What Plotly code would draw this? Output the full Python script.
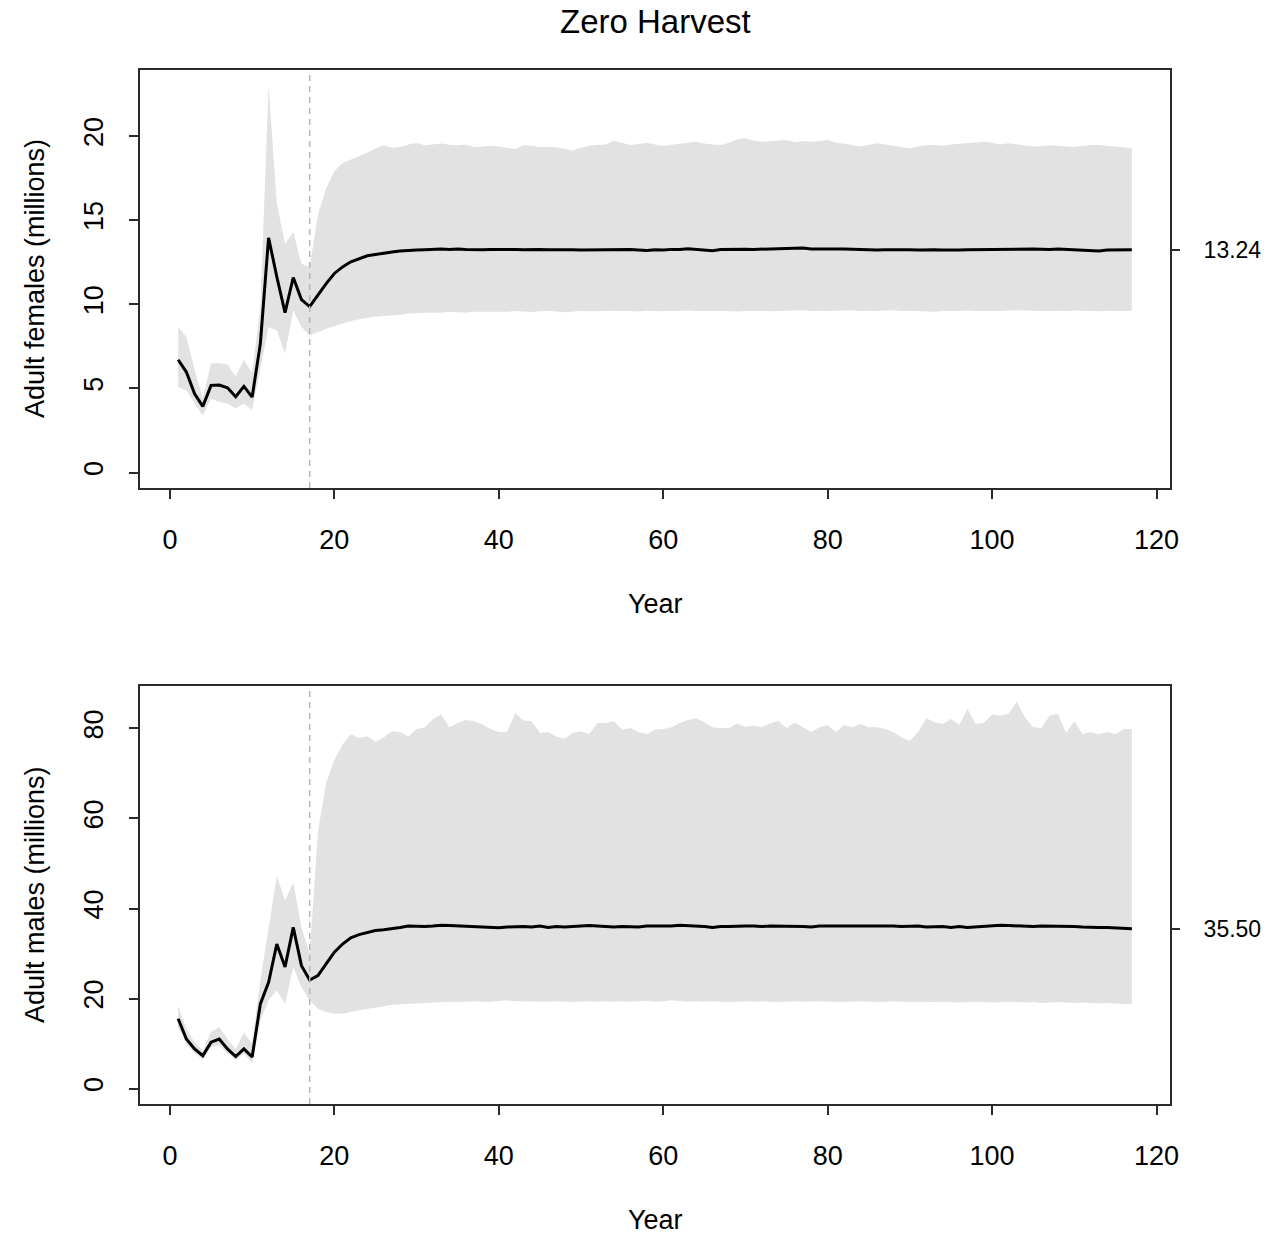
import plotly.graph_objects as go

years = list(range(1, 118))

# ---------------- Adult females (millions) ----------------
mean_f = [6.7, 5.97, 4.68, 3.93, 5.18, 5.2, 5.04, 4.5, 5.12, 4.48,
          7.66, 13.95, 11.63, 9.5, 11.59, 10.28, 9.86, 10.54, 11.23, 11.83,
          12.22, 12.52, 12.72, 12.88, 12.95, 13.05, 13.11, 13.16, 13.21, 13.22,
          13.24, 13.26, 13.28, 13.25, 13.29, 13.26, 13.24, 13.24, 13.25, 13.26,
          13.27, 13.25, 13.24, 13.26, 13.25, 13.24, 13.25, 13.26, 13.24, 13.23,
          13.24, 13.25, 13.22, 13.23, 13.24, 13.25, 13.23, 13.2, 13.24, 13.22,
          13.26, 13.25, 13.3, 13.27, 13.22, 13.18, 13.25, 13.27, 13.28, 13.27,
          13.26, 13.27, 13.26, 13.28, 13.3, 13.32, 13.34, 13.28, 13.29, 13.3,
          13.31, 13.29, 13.27, 13.25, 13.24, 13.22, 13.24, 13.25, 13.26, 13.24,
          13.23, 13.25, 13.24, 13.22, 13.21, 13.23, 13.24, 13.25, 13.24, 13.26,
          13.27, 13.25, 13.29, 13.31, 13.28, 13.27, 13.25, 13.28, 13.26, 13.24,
          13.25, 13.22, 13.17, 13.23, 13.24, 13.25, 13.24]

upper_f = [8.65, 8.05, 6.1, 4.4, 6.5, 6.5, 6.4, 5.7, 6.7, 5.9,
           9.8, 23.0, 16.0, 13.6, 14.3, 12.4, 12.2, 15.3, 16.9, 17.9,
           18.4, 18.6, 18.8, 19.0, 19.25, 19.45, 19.3, 19.35, 19.5, 19.58,
           19.45, 19.5, 19.55, 19.48, 19.45, 19.5, 19.35, 19.38, 19.42, 19.37,
           19.3, 19.22, 19.45, 19.42, 19.33, 19.36, 19.33, 19.25, 19.13, 19.3,
           19.42, 19.46, 19.5, 19.72, 19.6, 19.46, 19.52, 19.6, 19.5, 19.4,
           19.48, 19.56, 19.6, 19.66, 19.55, 19.5, 19.46, 19.6, 19.8, 19.86,
           19.72, 19.66, 19.7, 19.72, 19.76, 19.62, 19.7, 19.66, 19.72, 19.76,
           19.6, 19.55, 19.45, 19.37, 19.48, 19.56, 19.5, 19.42, 19.35, 19.27,
           19.38, 19.45, 19.46, 19.42, 19.5, 19.55, 19.6, 19.62, 19.66, 19.6,
           19.5, 19.56, 19.5, 19.42, 19.37, 19.4, 19.45, 19.42, 19.38, 19.35,
           19.4, 19.46, 19.46, 19.42, 19.38, 19.32, 19.27]

lower_f = [5.08, 4.88, 4.1, 3.39, 4.4, 4.2, 4.1, 3.8, 4.1, 3.7,
           6.2, 8.65, 8.45, 7.06, 9.64, 8.65, 8.15, 8.35, 8.55, 8.72,
           8.85, 9.0, 9.1, 9.2, 9.25, 9.3, 9.35, 9.38, 9.45, 9.47,
           9.5, 9.52, 9.5, 9.55, 9.52, 9.5, 9.55, 9.57, 9.53, 9.56,
           9.55, 9.6, 9.57, 9.54, 9.58, 9.6, 9.57, 9.52, 9.55, 9.6,
           9.58, 9.57, 9.6, 9.62, 9.58, 9.6, 9.57, 9.62, 9.6, 9.58,
           9.62, 9.6, 9.63, 9.6, 9.58, 9.6, 9.62, 9.6, 9.57, 9.6,
           9.62, 9.6, 9.58, 9.62, 9.6, 9.63, 9.65, 9.6, 9.62, 9.6,
           9.58, 9.62, 9.64, 9.6, 9.62, 9.6, 9.63, 9.65, 9.6, 9.62,
           9.6, 9.58, 9.55, 9.6, 9.62, 9.6, 9.63, 9.6, 9.58, 9.62,
           9.6, 9.63, 9.65, 9.6, 9.62, 9.6, 9.58, 9.62, 9.6, 9.63,
           9.62, 9.6, 9.58, 9.62, 9.6, 9.6, 9.62]

# ---------------- Adult males (millions) ----------------
mean_m = [15.5, 11.0, 8.8, 7.3, 10.3, 11.0, 8.8, 7.1, 8.8, 7.0,
          18.8, 23.6, 32.1, 27.0, 35.8, 27.3, 24.1, 25.1, 27.7, 30.3,
          32.1, 33.5, 34.2, 34.7, 35.1, 35.3, 35.5, 35.8, 36.1, 36.0,
          36.0, 36.1, 36.3, 36.2, 36.1, 36.0, 35.9, 35.8, 35.7, 35.7,
          35.9, 36.0, 36.0, 35.9, 36.1, 35.8, 36.0, 35.9, 36.0, 36.1,
          36.2, 36.1, 36.0, 35.9, 36.0, 36.0, 35.9, 36.1, 36.1, 36.2,
          36.1, 36.3, 36.2, 36.2, 36.0, 35.8, 36.0, 36.0, 36.1, 36.1,
          36.1, 36.0, 36.1, 36.1, 36.1, 36.1, 36.0, 35.9, 36.1, 36.1,
          36.1, 36.1, 36.2, 36.1, 36.1, 36.2, 36.2, 36.1, 36.0, 36.1,
          36.1, 35.9, 36.0, 36.0, 35.8, 36.0, 35.8, 35.9, 36.0, 36.1,
          36.3, 36.2, 36.1, 36.1, 36.0, 36.1, 36.1, 36.0, 36.1, 36.0,
          35.9, 35.8, 35.8, 35.8, 35.7, 35.6, 35.5]

upper_m = [18.4, 13.3, 10.3, 8.4, 12.6, 13.6, 11.0, 8.8, 12.4, 10.0,
           24.0, 36.0, 47.3, 41.8, 45.8, 35.8, 30.0, 57.0, 68.0, 73.0,
           76.5, 78.7, 77.9, 78.3, 77.0, 78.0, 79.4, 79.2, 78.2, 79.9,
           80.2, 82.1, 83.1, 80.3, 81.2, 81.9, 81.6, 80.9, 79.9, 79.2,
           79.2, 83.4, 81.8, 81.6, 79.0, 79.2, 78.2, 77.7, 79.0, 79.4,
           78.8, 81.2, 81.2, 81.6, 79.7, 80.1, 79.2, 78.7, 79.7, 79.9,
           80.3, 81.2, 81.9, 82.3, 81.4, 80.3, 80.1, 80.1, 81.1, 80.4,
           80.6, 80.3, 81.1, 81.7, 80.1, 81.3, 80.3, 79.2, 80.3, 80.8,
           79.2, 80.8, 80.3, 81.0, 80.3, 80.3, 79.9, 79.2, 78.0, 77.2,
           79.2, 82.3, 81.4, 81.0, 82.1, 80.8, 84.4, 81.0, 81.2, 83.1,
           82.9, 83.3, 86.0, 82.5, 80.3, 80.1, 82.9, 83.3, 79.0, 81.6,
           78.8, 79.2, 78.7, 79.2, 78.8, 79.9, 79.9]

lower_m = [13.6, 9.9, 7.9, 6.4, 9.2, 9.6, 7.7, 6.4, 7.7, 5.6,
           15.1, 19.6, 21.8, 18.8, 27.0, 22.5, 19.6, 17.7, 17.0, 16.6,
           16.6, 17.0, 17.4, 17.8, 18.0, 18.3, 18.6, 18.8, 18.9, 19.0,
           19.1, 19.2, 19.2, 19.3, 19.2, 19.3, 19.4, 19.3, 19.3, 19.4,
           19.6, 19.4, 19.3, 19.4, 19.3, 19.3, 19.4, 19.3, 19.2, 19.3,
           19.4, 19.3, 19.4, 19.3, 19.4, 19.3, 19.4, 19.5, 19.3, 19.4,
           19.6, 19.4, 19.3, 19.4, 19.3, 19.4, 19.3, 19.2, 19.3, 19.4,
           19.3, 19.4, 19.3, 19.2, 19.3, 19.4, 19.3, 19.3, 19.4, 19.3,
           19.2, 19.3, 19.3, 19.4, 19.3, 19.2, 19.3, 19.4, 19.3, 19.2,
           19.3, 19.3, 19.2, 19.3, 19.2, 19.1, 19.2, 19.3, 19.2, 19.1,
           19.2, 19.3, 19.2, 19.1, 19.2, 19.0, 19.1, 19.2, 19.1, 19.0,
           19.1, 19.0, 18.9, 19.0, 18.9, 18.8, 18.8]

title_text = "Zero Harvest"
x_title = "Year"
y_titles = ["Adult females (millions)", "Adult males (millions)"]
x_ticks = [0, 20, 40, 60, 80, 100, 120]
y_ticks_f = [0, 5, 10, 15, 20]
y_ticks_m = [0, 20, 40, 60, 80]
harvest_start = 17

# ---------------- styling ----------------
W, H = 1286, 1234
FONT = "Liberation Sans, Arial, Helvetica, sans-serif"
FS = 27
FS_TITLE = 33
FS_RIGHT = 23
BAND = "#e2e2e2"
BOX = "#2b2b2b"

xdom = [140 / W, 1170 / W]
ydom_top = [1 - 488 / H, 1 - 70 / H]
ydom_bot = [1 - 1104 / H, 1 - 686 / H]

fig = go.Figure()

def add_panel(mean, upper, lower, xa, ya, ya_r):
    fig.add_trace(go.Scatter(
        x=years + years[::-1], y=upper + lower[::-1],
        xaxis=xa, yaxis=ya, fill="toself", fillcolor=BAND,
        line=dict(width=0, color=BAND), mode="lines",
        hoverinfo="skip", showlegend=False))
    fig.add_trace(go.Scatter(
        x=years, y=mean, xaxis=xa, yaxis=ya, mode="lines",
        line=dict(color="black", width=3), showlegend=False))
    fig.add_trace(go.Scatter(
        x=[years[-1]], y=[mean[-1]], xaxis=xa, yaxis=ya_r, mode="markers",
        marker=dict(opacity=0), hoverinfo="skip", showlegend=False))

add_panel(mean_f, upper_f, lower_f, "x", "y", "y3")
add_panel(mean_m, upper_m, lower_m, "x2", "y2", "y4")

xr = [years[0] - 0.04 * (years[-1] - years[0]), years[-1] + 0.04 * (years[-1] - years[0])]
mf = max(upper_f)
mm = max(upper_m)
yr_f = [-0.04 * mf, 1.04 * mf]
yr_m = [-0.04 * mm, 1.04 * mm]

tickfont = dict(family=FONT, size=FS, color="black")

def xaxis_cfg(anchor):
    return dict(domain=xdom, range=xr, anchor=anchor, tickvals=x_ticks,
                ticks="outside", ticklen=9, tickwidth=1.5, tickcolor=BOX,
                showline=True, linecolor=BOX, linewidth=1.5, mirror=True,
                showgrid=False, zeroline=False, tickfont=tickfont,
                ticklabelstandoff=18, automargin=False)

def yaxis_cfg(dom, rng, ticks, anchor):
    return dict(domain=dom, range=rng, anchor=anchor, tickvals=ticks,
                ticks="outside", ticklen=9, tickwidth=1.5, tickcolor=BOX,
                showline=True, linecolor=BOX, linewidth=1.5, mirror=True,
                showgrid=False, zeroline=False, tickfont=tickfont,
                tickangle=-90, ticklabelstandoff=15, automargin=False)

def yaxis_right(over, rng, val):
    return dict(overlaying=over, side="right", range=rng, anchor="free",
                position=xdom[1], tickvals=[val], ticktext=[f"{val:.2f}"],
                ticks="outside", ticklen=9, tickwidth=1.5, tickcolor=BOX,
                showline=False, showgrid=False, zeroline=False,
                tickfont=dict(family=FONT, size=FS_RIGHT, color="black"),
                ticklabelstandoff=19, automargin=False)

fig.update_layout(
    width=W, height=H, margin=dict(l=0, r=0, t=0, b=0, autoexpand=False),
    paper_bgcolor="white", plot_bgcolor="white",
    font=dict(family=FONT, size=FS, color="black"),
    xaxis=xaxis_cfg("y"),
    xaxis2=xaxis_cfg("y2"),
    yaxis=yaxis_cfg(ydom_top, yr_f, y_ticks_f, "x"),
    yaxis2=yaxis_cfg(ydom_bot, yr_m, y_ticks_m, "x2"),
    yaxis3=yaxis_right("y", yr_f, mean_f[-1]),
    yaxis4=yaxis_right("y2", yr_m, mean_m[-1]),
    showlegend=False,
)

for xa, ya in (("x", "y"), ("x2", "y2")):
    fig.add_shape(type="line", xref=xa, yref=f"{ya} domain",
                  x0=harvest_start, x1=harvest_start, y0=0, y1=1,
                  line=dict(color="#b5b5b5", width=1.5, dash="6px,5px"))

ann = [
    dict(text=title_text, x=655 / W, y=1 - 22 / H, size=FS_TITLE, angle=0),
    dict(text=x_title, x=655 / W, y=1 - 604 / H, size=FS, angle=0),
    dict(text=x_title, x=655 / W, y=1 - 1220 / H, size=FS, angle=0),
    dict(text=y_titles[0], x=35 / W, y=1 - 279 / H, size=FS, angle=-90),
    dict(text=y_titles[1], x=35 / W, y=1 - 895 / H, size=FS, angle=-90),
]
for a in ann:
    fig.add_annotation(text=a["text"], x=a["x"], y=a["y"], xref="paper", yref="paper",
                       showarrow=False, textangle=a["angle"], xanchor="center",
                       yanchor="middle", font=dict(family=FONT, size=a["size"], color="black"))

fig.write_html("out.html", config={"displayModeBar": False},
               post_script="document.body.style.margin='0';")
